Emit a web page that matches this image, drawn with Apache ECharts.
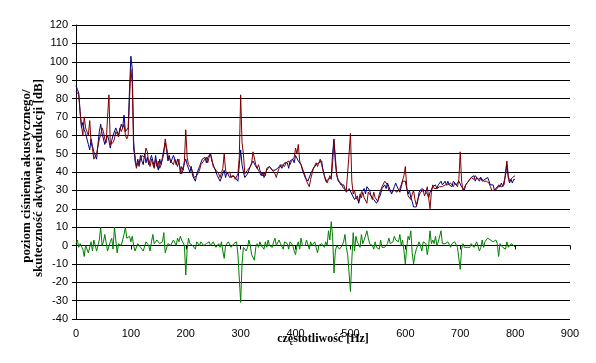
<!DOCTYPE html>
<html>
<head>
<meta charset="utf-8">
<script src="https://cdn.jsdelivr.net/npm/echarts@6/dist/echarts.min.js"></script>
<style>
  html, body { margin: 0; padding: 0; background: #fff; }
  #chart { width: 596px; height: 363px; }
</style>
</head>
<body>
<div id="chart"></div>
<script>
// siatka częstotliwości co 2.5 Hz, 0..800
var freq = [];
for (var i = 0; i <= 320; i++) freq.push(i * 2.5);

// bez redukcji (niebieski), jeden wiersz = 100 Hz
var blue = [
  87, 85, 83, 73, 64, 67, 63, 61, 62, 55, 52, 58, 54, 51, 50, 47, 55, 62, 66, 61, 60, 55, 56, 60, 57, 53, 57, 60, 59, 64, 63, 60, 63, 66, 64, 71, 62, 61, 64, 85,
  103, 96, 57, 46, 43, 47, 44, 49, 46, 44, 50, 45, 48, 44, 43, 49, 46, 43, 49, 44, 41, 47, 44, 48, 52, 56, 52, 46, 49, 45, 47, 49, 47, 44, 47, 46, 42, 39, 41, 45,
  47, 44, 45, 40, 43, 38, 37, 35, 39, 40, 43, 44, 47, 46, 48, 45, 48, 49, 50, 46, 46, 42, 42, 38, 37, 35, 36, 39, 41, 37, 40, 41, 37, 36, 38, 39, 37, 38, 35, 44,
  52, 44, 40, 37, 36, 39, 40, 43, 42, 46, 47, 43, 44, 41, 42, 38, 40, 37, 39, 41, 40, 43, 42, 41, 42, 41, 40, 42, 41, 44, 42, 43, 45, 44, 45, 42, 46, 45, 47, 45,
  49, 50, 46, 45, 44, 41, 40, 37, 38, 35, 35, 39, 40, 42, 41, 44, 43, 45, 44, 46, 41, 38, 35, 34, 36, 35, 37, 50, 58, 45, 38, 36, 37, 33, 34, 33, 32, 29, 30, 31,
  30, 28, 27, 25, 26, 27, 23, 26, 29, 28, 31, 28, 32, 31, 30, 27, 28, 25, 26, 23, 22, 26, 28, 31, 30, 33, 31, 34, 32, 31, 28, 30, 32, 34, 32, 31, 29, 32, 35, 34,
  35, 31, 28, 30, 26, 24, 21, 20, 21, 24, 29, 28, 31, 32, 30, 31, 28, 26, 29, 30, 32, 31, 33, 31, 33, 32, 35, 33, 32, 35, 33, 35, 33, 34, 32, 35, 35, 33, 34, 35,
  36, 32, 31, 30, 33, 32, 35, 34, 37, 36, 38, 35, 37, 36, 35, 37, 35, 34, 36, 35, 37, 38, 33, 32, 33, 30, 31, 32, 33, 32, 34, 32, 35, 38, 44, 37, 34, 36, 34, 36,
  36
];

// z aktywną redukcją (czerwony)
var red = [
  84, 83, 82, 72, 65, 60, 70, 64, 63, 60, 68, 56, 53, 47, 47, 50, 54, 58, 60, 64, 62, 58, 56, 70, 82, 55, 54, 56, 58, 62, 63, 59, 64, 62, 62, 66, 60, 58, 60, 80,
  96, 88, 52, 49, 42, 45, 43, 47, 49, 50, 48, 53, 51, 45, 43, 47, 44, 42, 47, 43, 46, 42, 44, 47, 50, 58, 57, 49, 50, 46, 45, 44, 47, 46, 43, 47, 39, 43, 41, 46,
  63, 48, 44, 43, 42, 40, 37, 37, 38, 39, 41, 44, 44, 46, 47, 48, 45, 48, 50, 47, 43, 43, 41, 40, 39, 37, 36, 42, 50, 41, 39, 38, 40, 37, 37, 38, 36, 36, 39, 48,
  82, 56, 50, 39, 38, 41, 40, 43, 45, 51, 50, 44, 42, 44, 41, 40, 38, 40, 38, 42, 41, 43, 44, 41, 40, 39, 37, 40, 42, 43, 44, 43, 43, 45, 44, 46, 44, 46, 45, 48,
  53, 50, 55, 46, 44, 43, 40, 38, 35, 34, 32, 36, 39, 42, 42, 45, 43, 45, 47, 44, 44, 38, 37, 34, 36, 38, 36, 45, 57, 48, 39, 35, 36, 34, 34, 31, 32, 30, 31, 50,
  61, 35, 28, 30, 26, 25, 24, 28, 26, 29, 26, 25, 23, 29, 28, 27, 25, 29, 26, 26, 24, 28, 30, 32, 31, 35, 34, 33, 30, 31, 29, 28, 30, 31, 29, 30, 31, 33, 32, 38,
  43, 32, 27, 26, 25, 28, 30, 25, 22, 25, 27, 29, 28, 30, 27, 29, 32, 26, 20, 29, 33, 31, 32, 31, 30, 32, 33, 32, 31, 33, 34, 33, 32, 34, 33, 32, 34, 33, 32, 36,
  51, 35, 30, 31, 33, 34, 35, 36, 37, 36, 36, 38, 37, 36, 36, 37, 37, 35, 36, 35, 35, 34, 32, 30, 31, 30, 29, 31, 33, 32, 32, 33, 33, 40, 46, 38, 35, 34, 37, 36,
  38
];

// skuteczność redukcji (zielony)
var green = [
  1, 3, -1, 1, 2, -2, -6, 0, 1, -4, -5, 2, -3, 3, 4, -3, -2, 3, 10, 0, 2, 6, 5, -3, -3, 2, 4, -2, 10, 3, -4, 1, 2, 0, 0, 6, 10, 4, 4, 5,
  2, 5, 0, -3, -2, 1, 2, -1, 0, -3, -3, 2, 3, 0, -3, 2, 6, 1, 1, 3, 3, 1, 0, 2, 7, -4, -5, 1, 2, 0, 1, 3, 3, 0, 4, 2, 5, 3, 3, 0,
  -16, -2, 4, 1, 2, 0, 1, -2, 2, 1, 0, 2, 2, 0, -1, 1, 1, 2, 0, -1, 2, 1, -1, 0, 1, -1, 2, -3, -7, 0, 1, 2, 2, -1, 0, 1, 1, 2, -5, -4,
  -31, -10, -1, -2, -3, -1, 3, 0, -5, -6, -8, -1, 1, -1, 2, 0, 0, -2, 2, -1, 3, 0, 1, -1, 2, 4, 0, 1, 3, 1, 1, -2, 2, 1, 1, -2, 2, 1, 0, -3,
  -5, 0, 2, -2, 4, 0, 1, 0, 3, 2, -2, 2, 0, 1, 2, -1, -4, 0, 1, 1, 0, -1, 2, 0, 8, 3, 13, 5, -15, -3, 0, 1, -2, -1, 0, 2, 6, -1, -5, -4,
  -25, -8, 7, -3, 5, 2, 2, -1, 6, 1, 3, 4, 8, 4, 1, 1, 0, -2, 2, -1, -2, -2, 3, -1, 0, -1, -2, 1, 4, 1, 1, 2, 5, 3, 3, 2, 6, 0, 3, -3,
  -10, -1, 5, 3, 8, -4, -10, -5, -2, -1, 2, 0, -3, 2, 3, 1, -5, 0, 8, 1, 3, 1, 5, 0, 2, 1, 8, 1, 2, 1, 0, 2, 3, -1, 1, 2, 2, 1, -1, -1,
  -13, -2, 1, -1, 0, -1, -2, -1, 1, 1, -1, -2, 2, 1, -3, -1, 3, -1, 2, 1, 4, 4, 3, 2, 2, 1, 3, 1, -6, 1, 1, -1, -1, -2, 2, -1, -2, 1, 1, 0,
  -1
];

function pairs(vals) {
  return freq.map(function (f, i) { return [f, vals[i]]; });
}

function line(vals, color) {
  return {
    type: 'line',
    data: pairs(vals),
    showSymbol: false,
    symbol: 'none',
    lineStyle: { color: color, width: 1 },
    itemStyle: { color: color },
    z: 3
  };
}

var chart = echarts.init(document.getElementById('chart'), null, { renderer: 'canvas' });

var titleFont = "'Liberation Serif', 'DejaVu Serif', serif";

var option = {
  animation: false,
  backgroundColor: '#fff',
  grid: { left: 76, right: 26, top: 25, bottom: 44, containLabel: false },
  xAxis: {
    type: 'value',
    min: 0, max: 900, interval: 100,
    axisLine: { onZero: true, lineStyle: { color: '#000', width: 1 } },
    axisTick: { show: true, length: 4, lineStyle: { color: '#000' } },
    axisLabel: { color: '#000', fontFamily: 'Liberation Sans', fontSize: 11, margin: 9 },
    splitLine: { show: false }
  },
  yAxis: {
    type: 'value',
    min: -40, max: 120, interval: 10,
    axisLine: { show: true, lineStyle: { color: '#000', width: 1 } },
    axisTick: { show: true, length: 4, lineStyle: { color: '#000' } },
    axisLabel: { color: '#000', fontFamily: 'Liberation Sans', fontSize: 11, margin: 8 },
    splitLine: { show: true, lineStyle: { color: '#000', width: 1 } }
  },
  graphic: [
    {
      type: 'text', x: 27, y: 176, rotation: Math.PI / 2,
      style: {
        text: 'poziom ciśnienia akustycznego/',
        fontFamily: titleFont, fontWeight: 'bold', fontSize: 13,
        fill: '#000', align: 'center', verticalAlign: 'middle'
      }
    },
    {
      type: 'text', x: 39, y: 178, rotation: Math.PI / 2,
      style: {
        text: 'skuteczność aktywnej redukcji [dB]',
        fontFamily: titleFont, fontWeight: 'bold', fontSize: 13,
        fill: '#000', align: 'center', verticalAlign: 'middle'
      }
    },
    {
      type: 'text', x: 323, y: 339,
      style: {
        text: 'częstotliwość [Hz]',
        fontFamily: titleFont, fontWeight: 'bold', fontSize: 12,
        fill: '#000', align: 'center', verticalAlign: 'middle'
      }
    }
  ],
  series: [
    line(blue, '#000080'),
    line(red, '#800000'),
    line(green, '#008000')
  ]
};
chart.setOption(option);
</script>
</body>
</html>
